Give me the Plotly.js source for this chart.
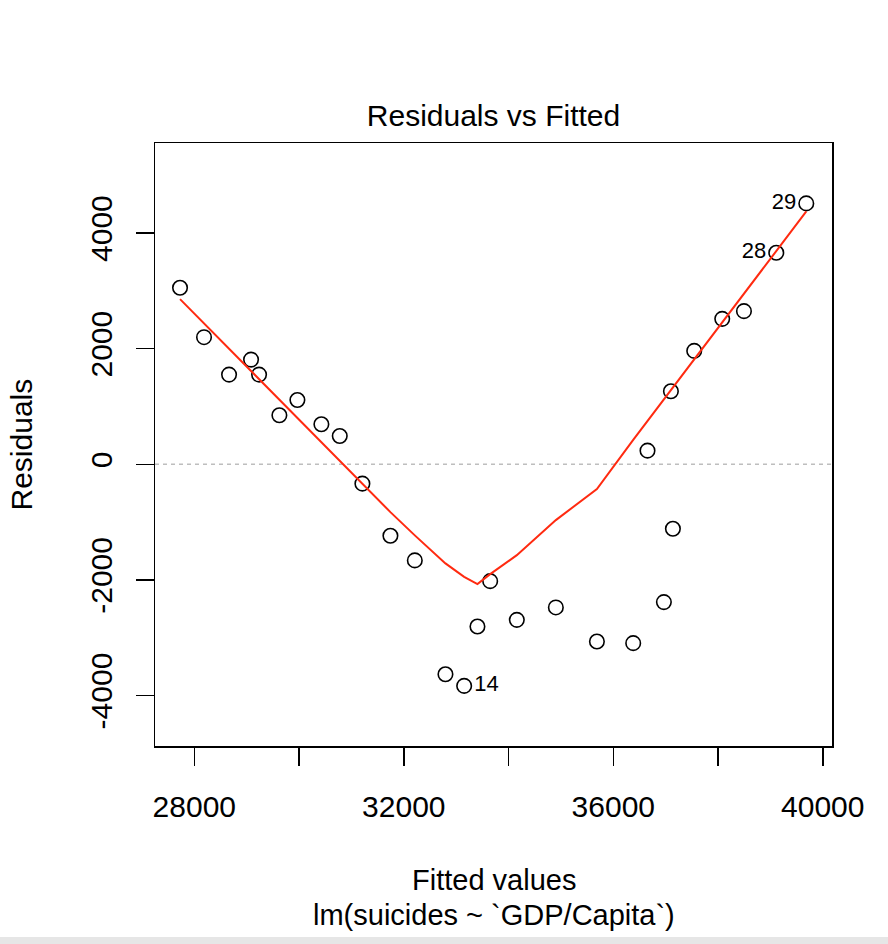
<!DOCTYPE html>
<html>
<head>
<meta charset="utf-8">
<script src="https://cdn.plot.ly/plotly-3.0.1.min.js"></script>
<style>
  html, body { margin: 0; padding: 0; background: #fff; }
  #plot { width: 888px; height: 944px; }
</style>
</head>
<body>
<div id="plot"></div>
<script>
const fitted = [27727, 28185, 28663, 29083, 29236, 29624, 29968, 30426, 30777, 31209,
                31744, 32210, 32795, 33152, 33406, 33649, 34158, 34903, 35687, 36380,
                36653, 36966, 37100, 37138, 37545, 38080, 38495, 39112, 39685]
const residuals = [3053, 2199, 1552, 1811, 1552, 848, 1113, 693, 490, -335,
                   -1236, -1662, -3631, -3833, -2805, -2021, -2691, -2476, -3065, -3094,
                   236, -2384, 1264, -1115, 1962, 2516, 2649, 3659, 4513]
// lowess smooth evaluated at each fitted value
const smooth = [2857, 2437, 1999, 1614, 1473, 1117, 802, 382, 60, -336,
                -827, -1230, -1714, -1946, -2073, -1900, -1571, -965, -428, 422,
                750, 1124, 1283, 1330, 1816, 2457, 2952, 3690, 4374]
// labelled (most extreme) observations
const idPoints = ['14', '28', '29']

const xTicks = [28000, 30000, 32000, 34000, 36000, 38000, 40000]
const xTickText = ['28000', '', '32000', '', '36000', '', '40000']
const yTicks = [-4000, -2000, 0, 2000, 4000]

const FONT = 'Liberation Sans, Arial, Helvetica, sans-serif'

const meanFitted = fitted.reduce((a, b) => a + b, 0) / fitted.length
let labels = []
let labelPos = []
for (let i = 0; i < fitted.length; i++) {
  let id = String(i + 1)
  labels.push(idPoints.includes(id) ? id : '')
  labelPos.push(fitted[i] < meanFitted ? 'middle right' : 'middle left')
}

let traces = [
  {
    x: fitted,
    y: residuals,
    mode: 'markers+text',
    type: 'scatter',
    text: labels,
    textposition: labelPos,
    textfont: {family: FONT, size: 22, color: '#000'},
    marker: {symbol: 'circle-open', size: 14.5, color: '#000', line: {width: 1.6, color: '#000'}},
    hoverinfo: 'x+y',
    cliponaxis: false
  },
  {
    x: fitted,
    y: smooth,
    mode: 'lines',
    type: 'scatter',
    line: {color: '#ff2a10', width: 2},
    hoverinfo: 'skip'
  }
]

let axisCommon = {
  showgrid: false,
  zeroline: false,
  showline: true,
  linecolor: '#000',
  linewidth: 1.5,
  mirror: true,
  ticks: 'outside',
  ticklen: 18,
  tickwidth: 1.5,
  tickcolor: '#000',
  tickfont: {family: FONT, size: 30, color: '#000'}
}

let layout = {
  width: 888,
  height: 944,
  margin: {l: 155, r: 56, t: 143, b: 198},
  paper_bgcolor: '#fff',
  plot_bgcolor: '#fff',
  showlegend: false,
  font: {family: FONT, color: '#000'},
  title: {
    text: 'Residuals vs Fitted',
    font: {family: FONT, size: 30, color: '#000'},
    xref: 'paper', x: 0.5, xanchor: 'center',
    yref: 'container', y: 1 - 115 / 944, yanchor: 'middle'
  },
  xaxis: Object.assign({}, axisCommon, {
    range: [27249, 40176],
    tickvals: xTicks,
    ticktext: xTickText,
    ticklabelstandoff: 15
  }),
  yaxis: Object.assign({}, axisCommon, {
    range: [-4873, 5558],
    tickvals: yTicks,
    ticktext: yTicks.map(String),
    tickangle: -90,
    ticklabelstandoff: 12
  }),
  shapes: [
    {
      type: 'line', xref: 'paper', x0: 0, x1: 1, yref: 'y', y0: 0, y1: 0,
      line: {color: '#bebebe', width: 1.5, dash: '4px,4px'},
      layer: 'below'
    },
    {
      type: 'rect', xref: 'paper', x0: -0.25, x1: 1.1, yref: 'paper', y0: -0.345, y1: -0.3167,
      fillcolor: '#e6e6e6', line: {width: 0}, layer: 'below'
    }
  ],
  annotations: [
    {
      text: 'Fitted values', xref: 'paper', x: 0.5, yref: 'paper', y: -0.2225,
      xanchor: 'center', yanchor: 'middle', showarrow: false,
      font: {family: FONT, size: 29, color: '#000'}
    },
    {
      text: 'lm(suicides ~ `GDP/Capita`)', xref: 'paper', x: 0.5, yref: 'paper', y: -0.2805,
      xanchor: 'center', yanchor: 'middle', showarrow: false,
      font: {family: FONT, size: 29, color: '#000'}
    },
    {
      text: 'Residuals', xref: 'paper', x: (21 - 155) / 677, yref: 'paper', y: 0.5,
      xanchor: 'center', yanchor: 'middle', textangle: -90, showarrow: false,
      font: {family: FONT, size: 30, color: '#000'}
    }
  ]
}

Plotly.newPlot('plot', traces, layout, {displayModeBar: false, staticPlot: true})
</script>
</body>
</html>
